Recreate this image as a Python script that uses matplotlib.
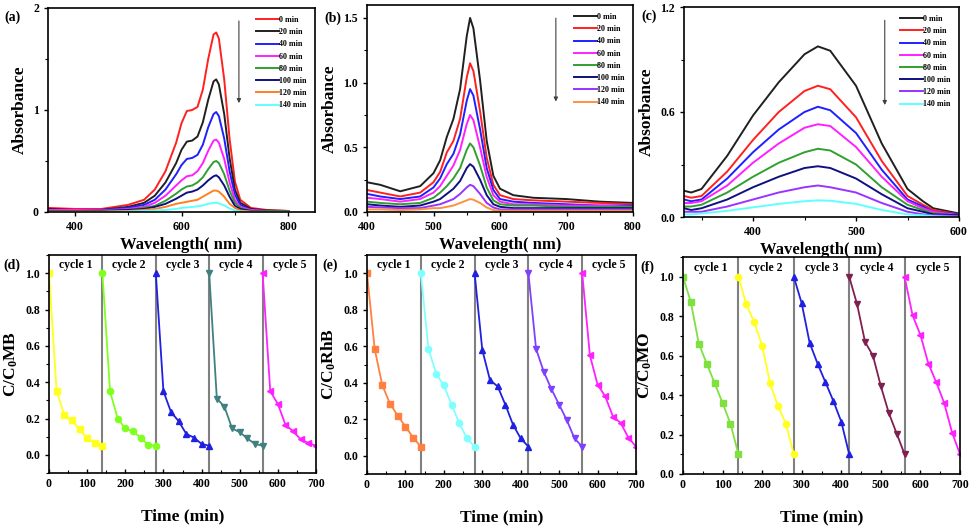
import numpy as np
import matplotlib
matplotlib.use("Agg")
import matplotlib.pyplot as plt
from matplotlib.ticker import MultipleLocator, FormatStrFormatter

plt.rcParams['font.family'] = ['Liberation Serif', 'DejaVu Serif']
plt.rcParams['font.weight'] = 'bold'
plt.rcParams['mathtext.fontset'] = 'custom'
plt.rcParams['mathtext.rm'] = 'Liberation Serif:bold'
plt.rcParams['mathtext.it'] = 'Liberation Serif:bold'

TIMES = ['0 min', '20 min', '40 min', '60 min', '80 min', '100 min', '120 min', '140 min']

# (a) MB spectra
wl_a = [350, 400, 450, 500, 530, 550, 570, 590, 600, 610, 620, 630, 640, 650, 660, 665, 670, 680, 690, 700, 710, 730, 760, 800]
mb_spec = [
    [0.04, 0.03, 0.03, 0.07, 0.12, 0.22, 0.40, 0.68, 0.87, 0.99, 1.00, 1.03, 1.20, 1.50, 1.74, 1.76, 1.70, 1.30, 0.72, 0.30, 0.12, 0.04, 0.02, 0.01],
    [0.03, 0.02, 0.02, 0.05, 0.09, 0.16, 0.29, 0.48, 0.61, 0.69, 0.70, 0.74, 0.88, 1.10, 1.28, 1.30, 1.25, 0.96, 0.53, 0.22, 0.09, 0.03, 0.015, 0.01],
    [0.02, 0.02, 0.02, 0.04, 0.07, 0.12, 0.22, 0.37, 0.46, 0.52, 0.53, 0.56, 0.66, 0.83, 0.96, 0.98, 0.94, 0.72, 0.40, 0.17, 0.07, 0.02, 0.01, 0.01],
    [0.02, 0.02, 0.015, 0.03, 0.05, 0.09, 0.16, 0.26, 0.31, 0.35, 0.36, 0.40, 0.48, 0.60, 0.70, 0.71, 0.68, 0.52, 0.29, 0.12, 0.05, 0.02, 0.01, 0.01],
    [0.01, 0.01, 0.01, 0.02, 0.04, 0.06, 0.11, 0.18, 0.22, 0.25, 0.26, 0.29, 0.34, 0.42, 0.49, 0.50, 0.48, 0.37, 0.21, 0.09, 0.04, 0.01, 0.01, 0.01],
    [0.01, 0.01, 0.01, 0.02, 0.03, 0.05, 0.08, 0.13, 0.16, 0.19, 0.20, 0.22, 0.26, 0.31, 0.35, 0.36, 0.34, 0.26, 0.15, 0.06, 0.03, 0.01, 0.005, 0.005],
    [0.005, 0.005, 0.005, 0.01, 0.02, 0.03, 0.05, 0.08, 0.09, 0.10, 0.11, 0.12, 0.15, 0.18, 0.21, 0.21, 0.20, 0.15, 0.08, 0.04, 0.015, 0.005, 0.003, 0.003],
    [0.0, 0.0, 0.0, 0.005, 0.01, 0.015, 0.02, 0.03, 0.04, 0.045, 0.05, 0.055, 0.065, 0.08, 0.09, 0.09, 0.085, 0.065, 0.035, 0.015, 0.005, 0.0, 0.0, 0.0],
]
colors_a = ['#ff2020', '#202020', '#2020ff', '#ff20ff', '#30a030', '#101080', '#ff8020', '#60ffff']

# (b) RhB spectra
wl_b = [400, 420, 450, 480, 500, 510, 520, 530, 540, 550, 555, 560, 570, 580, 590, 600, 620, 650, 700, 750, 800]
rhb_spec = [
    [0.23, 0.21, 0.16, 0.20, 0.30, 0.40, 0.58, 0.72, 0.95, 1.36, 1.50, 1.42, 1.02, 0.55, 0.28, 0.18, 0.13, 0.11, 0.10, 0.08, 0.07],
    [0.17, 0.15, 0.12, 0.15, 0.23, 0.31, 0.46, 0.55, 0.72, 1.04, 1.15, 1.09, 0.78, 0.42, 0.21, 0.13, 0.10, 0.09, 0.08, 0.07, 0.06],
    [0.14, 0.12, 0.10, 0.12, 0.19, 0.26, 0.37, 0.45, 0.60, 0.86, 0.95, 0.90, 0.64, 0.34, 0.17, 0.10, 0.08, 0.07, 0.06, 0.05, 0.05],
    [0.11, 0.10, 0.08, 0.10, 0.15, 0.20, 0.28, 0.36, 0.48, 0.68, 0.75, 0.71, 0.50, 0.27, 0.13, 0.08, 0.06, 0.06, 0.05, 0.05, 0.04],
    [0.08, 0.07, 0.06, 0.07, 0.11, 0.15, 0.20, 0.26, 0.34, 0.48, 0.53, 0.50, 0.36, 0.19, 0.09, 0.06, 0.05, 0.05, 0.04, 0.04, 0.04],
    [0.06, 0.05, 0.04, 0.05, 0.08, 0.10, 0.14, 0.18, 0.24, 0.34, 0.37, 0.35, 0.25, 0.13, 0.06, 0.04, 0.03, 0.03, 0.03, 0.03, 0.03],
    [0.04, 0.035, 0.03, 0.03, 0.05, 0.06, 0.08, 0.10, 0.14, 0.19, 0.21, 0.20, 0.14, 0.07, 0.035, 0.02, 0.02, 0.02, 0.02, 0.02, 0.02],
    [0.02, 0.02, 0.015, 0.02, 0.03, 0.03, 0.04, 0.05, 0.07, 0.09, 0.10, 0.095, 0.07, 0.035, 0.015, 0.01, 0.01, 0.01, 0.01, 0.01, 0.01],
]
colors_b = ['#202020', '#ff2020', '#2020ff', '#ff20ff', '#30a030', '#101080', '#9933ff', '#ff9040']

# (c) MO spectra
wl_c = [333, 340, 350, 375, 400, 425, 450, 463, 475, 500, 525, 550, 565, 575, 600]
mo_spec = [
    [0.15, 0.14, 0.16, 0.35, 0.58, 0.77, 0.93, 0.975, 0.95, 0.75, 0.42, 0.16, 0.09, 0.05, 0.02],
    [0.12, 0.11, 0.12, 0.26, 0.44, 0.60, 0.72, 0.75, 0.73, 0.57, 0.32, 0.12, 0.07, 0.04, 0.015],
    [0.10, 0.09, 0.10, 0.22, 0.37, 0.50, 0.60, 0.63, 0.61, 0.48, 0.27, 0.10, 0.06, 0.03, 0.015],
    [0.08, 0.08, 0.09, 0.18, 0.31, 0.42, 0.51, 0.53, 0.52, 0.40, 0.23, 0.09, 0.05, 0.03, 0.01],
    [0.06, 0.06, 0.07, 0.14, 0.23, 0.31, 0.37, 0.39, 0.38, 0.30, 0.17, 0.07, 0.04, 0.02, 0.01],
    [0.05, 0.04, 0.05, 0.10, 0.17, 0.23, 0.28, 0.29, 0.28, 0.22, 0.13, 0.05, 0.03, 0.015, 0.01],
    [0.03, 0.03, 0.03, 0.06, 0.10, 0.14, 0.17, 0.18, 0.17, 0.14, 0.08, 0.03, 0.015, 0.01, 0.005],
    [0.015, 0.015, 0.02, 0.035, 0.055, 0.075, 0.09, 0.095, 0.093, 0.075, 0.04, 0.015, 0.01, 0.005, 0.0],
]
colors_c = ['#202020', '#ff2020', '#2020ff', '#ff20ff', '#30a030', '#101080', '#9933ff', '#60ffff']

# cycling runs
t_cycle = [0, 20, 40, 60, 80, 100, 120, 140]
cycle_len = 140
mb_cycles = [
    [1.0, 0.35, 0.22, 0.19, 0.14, 0.09, 0.065, 0.05],
    [1.0, 0.35, 0.20, 0.145, 0.13, 0.095, 0.055, 0.05],
    [1.0, 0.35, 0.235, 0.185, 0.115, 0.095, 0.06, 0.05],
    [1.0, 0.31, 0.265, 0.145, 0.125, 0.09, 0.06, 0.05],
    [1.0, 0.35, 0.28, 0.165, 0.13, 0.085, 0.065, 0.05],
]
rhb_cycles = [
    [1.0, 0.585, 0.385, 0.285, 0.22, 0.16, 0.10, 0.05],
    [1.0, 0.585, 0.45, 0.385, 0.28, 0.18, 0.095, 0.05],
    [1.0, 0.58, 0.415, 0.38, 0.28, 0.17, 0.095, 0.05],
    [1.0, 0.585, 0.46, 0.365, 0.28, 0.195, 0.095, 0.05],
    [1.0, 0.55, 0.39, 0.325, 0.215, 0.18, 0.10, 0.05],
]
mo_cycles = [
    [1.0, 0.87, 0.66, 0.56, 0.46, 0.36, 0.255, 0.10],
    [1.0, 0.86, 0.77, 0.65, 0.46, 0.345, 0.255, 0.10],
    [1.0, 0.865, 0.665, 0.56, 0.465, 0.37, 0.265, 0.10],
    [1.0, 0.86, 0.67, 0.60, 0.445, 0.31, 0.205, 0.10],
    [1.0, 0.805, 0.705, 0.56, 0.465, 0.36, 0.21, 0.10],
]
cycle_names = ['cycle 1', 'cycle 2', 'cycle 3', 'cycle 4', 'cycle 5']
markers = ['s', 'o', '^', 'v', '<']
colors_d = ['#ffff20', '#80ff20', '#2020e0', '#408080', '#ff20ff']
colors_e = ['#ff8040', '#80ffff', '#2020e0', '#8040ff', '#ff20ff']
colors_f = ['#80e040', '#ffff20', '#2020e0', '#802050', '#ff20ff']

W, H = 973, 528
fig = plt.figure(figsize=(W / 100, H / 100), dpi=100)


def box(l, r, t, b):
    return fig.add_axes([l / W, 1 - b / H, (r - l) / W, (b - t) / H])


def style(ax):
    for s in ax.spines.values():
        s.set_linewidth(1.2)
    ax.tick_params(labelsize=8.5, width=1, length=3)
    ax.tick_params(which='minor', width=0.8, length=2)
    for lab in ax.get_xticklabels() + ax.get_yticklabels():
        lab.set_fontweight('bold')


def spectrum(ax, wl, spec, colors, arrow_x):
    for ys, c, lab in zip(spec, colors, TIMES):
        ax.plot(wl, ys, color=c, lw=1.4, label=lab)
    ax.legend(loc='upper right', frameon=False, prop={'size': 5.8, 'weight': 'bold'},
              handlelength=2.8, handletextpad=0.1, labelspacing=0.52,
              borderaxespad=0.6)
    ax.annotate('', xy=(arrow_x, 0.52), xytext=(arrow_x, 0.95), xycoords='axes fraction',
                arrowprops=dict(arrowstyle='-|>', color='#404040', lw=0.8, mutation_scale=6))
    ax.set_xlabel('Wavelength( nm)', fontsize=12, fontweight='bold', labelpad=3)
    ax.set_ylabel('Absorbance', fontsize=12.5, fontweight='bold', labelpad=4)
    style(ax)


def cycles(ax, data, colors, ylabel, ylow):
    for k, ys in enumerate(data):
        xs = [t + k * cycle_len for t in t_cycle]
        ax.plot(xs, ys, color=colors[k], lw=1.3, marker=markers[k], ms=4.5)
        ax.text(k * cycle_len + cycle_len / 2, 1.045, cycle_names[k], ha='center', va='center',
                fontsize=8.5, fontweight='bold')
        if k > 0:
            ax.axvline(k * cycle_len, color='#808080', lw=1.5, zorder=0)
    ax.set_xlim(0, 700)
    ax.set_ylim(ylow, 1.1)
    ax.xaxis.set_major_locator(MultipleLocator(100))
    ax.xaxis.set_minor_locator(MultipleLocator(50))
    ax.yaxis.set_major_locator(MultipleLocator(0.2))
    ax.yaxis.set_minor_locator(MultipleLocator(0.1))
    ax.yaxis.set_major_formatter(FormatStrFormatter('%.1f'))
    ax.tick_params(axis='x', which='both', direction='in')
    ax.set_xlabel('Time (min)', fontsize=12.5, fontweight='bold', labelpad=13)
    ax.set_ylabel(ylabel, fontsize=12.5, fontweight='bold', labelpad=4)
    style(ax)


ax_a = box(48, 315, 8, 212)
spectrum(ax_a, wl_a, mb_spec, colors_a, 0.715)
ax_a.set_xlim(350, 850)
ax_a.set_ylim(0, 2)
ax_a.xaxis.set_major_locator(MultipleLocator(200))
ax_a.xaxis.set_minor_locator(MultipleLocator(100))
ax_a.yaxis.set_major_locator(MultipleLocator(1))
ax_a.yaxis.set_minor_locator(MultipleLocator(0.5))

ax_b = box(367, 633, 5, 212)
spectrum(ax_b, wl_b, rhb_spec, colors_b, 0.71)
ax_b.set_xlim(400, 800)
ax_b.set_ylim(0, 1.6)
ax_b.xaxis.set_major_locator(MultipleLocator(100))
ax_b.xaxis.set_minor_locator(MultipleLocator(50))
ax_b.yaxis.set_major_locator(MultipleLocator(0.5))
ax_b.yaxis.set_minor_locator(MultipleLocator(0.25))
ax_b.yaxis.set_major_formatter(FormatStrFormatter('%.1f'))

ax_c = box(684, 959, 7, 217)
spectrum(ax_c, wl_c, mo_spec, colors_c, 0.73)
ax_c.set_xlim(333, 600)
ax_c.set_ylim(0, 1.2)
ax_c.xaxis.set_major_locator(MultipleLocator(100))
ax_c.xaxis.set_minor_locator(MultipleLocator(50))
ax_c.yaxis.set_major_locator(MultipleLocator(0.6))
ax_c.yaxis.set_minor_locator(MultipleLocator(0.3))
ax_c.yaxis.set_major_formatter(FormatStrFormatter('%.1f'))

ax_d = box(49, 316, 255, 473)
cycles(ax_d, mb_cycles, colors_d, r'C/C$_{0}$MB', -0.1)
ax_e = box(367, 636, 255, 474)
cycles(ax_e, rhb_cycles, colors_e, r'C/C$_{0}$RhB', -0.1)
ax_f = box(683, 960, 257, 474)
cycles(ax_f, mo_cycles, colors_f, r'C/C$_{0}$MO', 0.0)

for lab, x, y in [('(a)', 4, 17), ('(b)', 324, 18), ('(c)', 641, 16),
                  ('(d)', 3, 265), ('(e)', 322, 265), ('(f)', 640, 267)]:
    fig.text(x / W, 1 - y / H, lab, fontsize=10, fontweight='bold', va='center', ha='left')

fig.savefig('out.png', dpi=100)
